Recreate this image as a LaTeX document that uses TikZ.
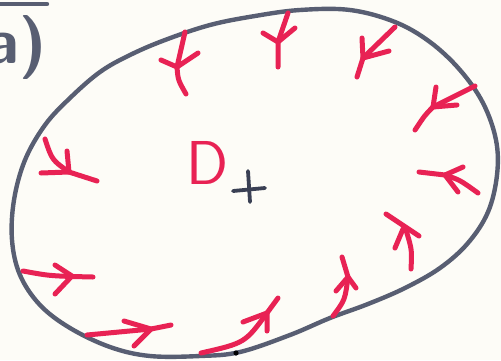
\documentclass[tikz,border=0pt]{standalone}
\usepackage{xcolor}
\definecolor{inkred}{RGB}{232,34,84}
\definecolor{inkgrey}{RGB}{88,94,114}
\definecolor{inkdark}{RGB}{58,64,84}
\definecolor{paper}{RGB}{253,252,247}

\begin{document}
\begin{tikzpicture}[x=1pt,y=-1pt,line cap=round,line join=round,
  rim/.style={inkgrey,line width=4.4pt},
  flow/.style={inkred,line width=5pt}]
% ---------- paper ----------
\fill[paper] (0,0) rectangle (501,360);
\useasboundingbox (0,0) rectangle (501,360);
% ---------- two wings of a hand-drawn arrow head: tip, wing, wing ----------
\newcommand{\barb}[3]{%
  \draw[flow] (#2) -- (#1) -- (#3);
}
% ---------- label in the corner (cut by the page edge) ----------
\draw[rim] (0,4) -- (47,4);
\node[inkgrey,font=\sffamily\bfseries\fontsize{64}{64}\selectfont,inner sep=0,anchor=base east] (tag) at (47,63) {a)};
% ---------- boundary of the region ----------
\draw[rim] plot[smooth cycle,tension=0.6] coordinates {
  (300,10) (350,10) (395,22) (430,42) (460,70) (483,103) (496,140)
  (497,175) (488,212) (468,243) (440,268) (405,288) (368,304) (330,318)
  (290,335) (240,352) (200,356) (150,356) (110,347) (70,328) (40,305)
  (20,275) (12,240) (14,200) (25,160) (45,125) (70,98) (100,72)
  (130,55) (165,40) (210,25) (255,16)};
\fill[black] (236,353) circle (2.6);
% ---------- region name and its mark ----------
\node[inkred,font=\sffamily\fontsize{62}{62}\selectfont,inner sep=0] (dom) at (208,163) {D};
\draw[inkdark,line width=3.8pt] (233,191) -- (265,188) (248,171) -- (250,202);
% ---------- arrows round the boundary ----------
% left, upper
\draw[flow] (45,139) .. controls (52,160) .. (69,172) -- (97,181);
\barb{69,172}{41,173}{67,151}
% left, lower
\draw[flow] (23,271) .. controls (50,276) .. (93,277);
\barb{72,276}{55,265}{55,294}
% bottom
\draw[flow] (87,335) -- (151,329) -- (171,325);
\barb{151,329}{124,321}{134,346}
\draw[flow] (201,353) .. controls (245,343) .. (267,313) -- (278,298);
\barb{267,313}{243,322}{267,331}
\draw[flow] (333,316) .. controls (345,300) .. (348,277) -- (342,257);
\barb{348,277}{336,291}{356,288}
% right, lower
\draw[flow] (386,214) -- (419,236);
\draw[flow] (411,269) .. controls (412,250) .. (406,230);
\draw[flow] (395,248) -- (403,229);
% right
\draw[flow] (478,193) .. controls (460,180) .. (445,175) -- (419,172);
\barb{445,175}{463,167}{458,192}
\draw[flow] (475,86) -- (433,107) .. controls (425,115) .. (415,130);
\barb{433,107}{436,87}{457,105}
% top
\draw[flow] (395,27) -- (363,58) -- (357,77);
\barb{363,58}{362,38}{389,51}
\draw[flow] (288,13) -- (278,42) -- (278,67);
\barb{278,42}{263,33}{295,28}
\draw[flow] (185,32) -- (177,67) .. controls (178,80) .. (186,94);
\barb{177,67}{161,60}{198,53}
\end{tikzpicture}
\end{document}
